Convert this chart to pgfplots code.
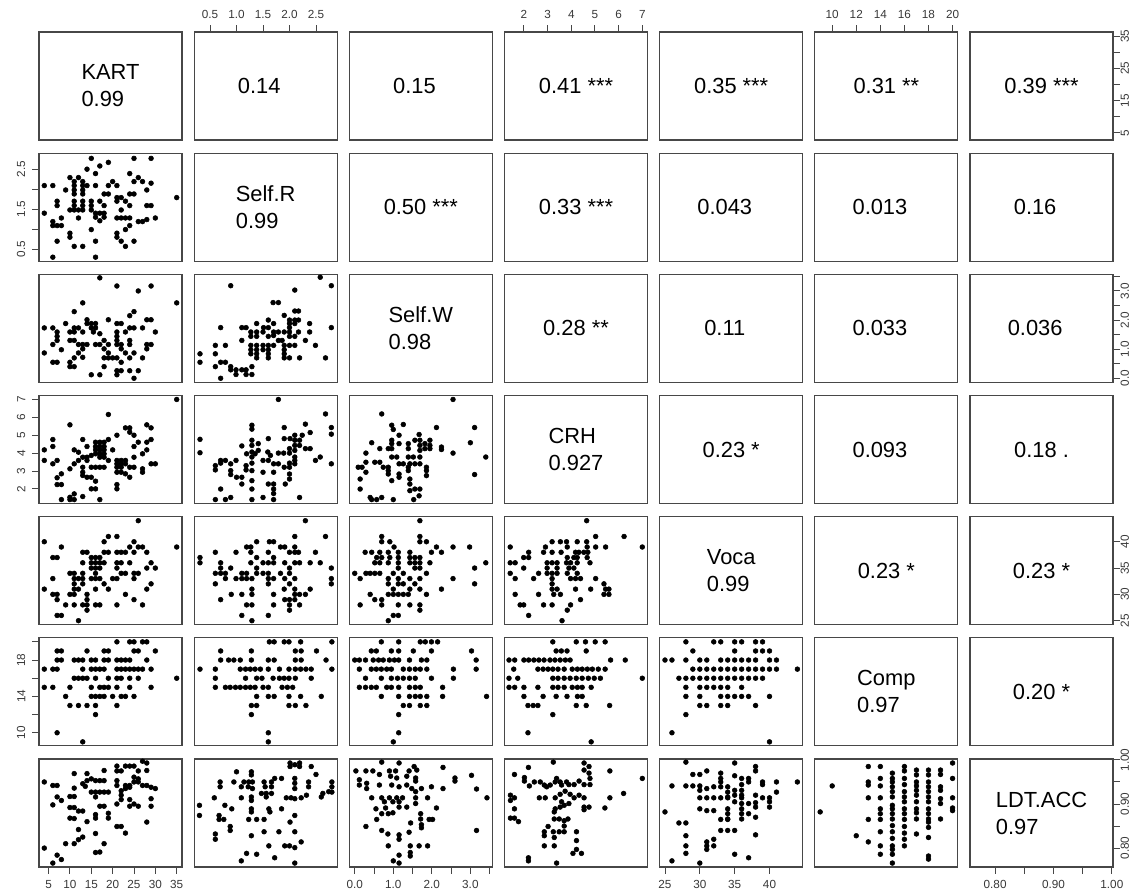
\documentclass[border=0pt]{standalone}
\usepackage{fontspec}
\setmainfont{Liberation Sans}
\usepackage{pgfplots}
\pgfplotsset{compat=1.18}
\tikzset{corr/.style={font=\fontsize{16.4}{20.25}\selectfont, text=black, inner sep=0pt}}
\pgfplotsset{
  panel/.style={scale only axis, width=107.25pt, height=81pt, anchor=north west,
    axis line style={black!72, line width=0.9pt},
    xtick=\empty, ytick=\empty,
    tick align=outside, major tick length=5.2pt,
    tick style={black!72, line width=0.7pt},
    ticklabel shift=3.4pt,
    every tick label/.append style={font=\fontsize{8.8}{9.5}\selectfont, text=black!78, inner sep=1.5pt}},
  pos/.style 2 args={at={({(39+155.17*(#1-1))*0.75pt},{-(32+121.17*(#2-1))*0.75pt})}},
  dots/.style={only marks, mark=*, mark size=1.8pt, mark options={fill=black, draw=black}},
  xkart/.style={xmin=2.76,xmax=36.24}, ykart/.style={ymin=2.76,ymax=36.24},
  xselfr/.style={xmin=0.2,xmax=2.9}, yselfr/.style={ymin=0.2,ymax=2.9},
  xselfw/.style={xmin=-0.14,xmax=3.57}, yselfw/.style={ymin=-0.14,ymax=3.57},
  xcrh/.style={xmin=1.18,xmax=7.22}, ycrh/.style={ymin=1.18,ymax=7.22},
  xvoca/.style={xmin=24.24,xmax=44.76}, yvoca/.style={ymin=24.24,ymax=44.76},
  xcomp/.style={xmin=8.56,xmax=20.44}, ycomp/.style={ymin=8.56,ymax=20.44},
  xldt/.style={xmin=0.757,xmax=1.002}, yldt/.style={ymin=0.757,ymax=1.002},
  leftstyle/.style={ytick pos=left, yticklabel style={rotate=90, anchor=south}},
  rightstyle/.style={ytick pos=right, yticklabel pos=right, yticklabel shift=-0.6pt, yticklabel style={rotate=90, anchor=north, inner sep=1pt}},
  topstyle/.style={xtick pos=right, xticklabel pos=right},
  bottomstyle/.style={xtick pos=left, xticklabel pos=left},
}
\newcommand{\tpanel}[3]{\begin{axis}[panel,pos={#1}{#2},xmin=0,xmax=1,ymin=0,ymax=1]\node[corr] at (rel axis cs:0.5,0.5) {#3};\end{axis}}
\newcommand{\npanel}[3]{\begin{axis}[panel,pos={#1}{#2},xmin=0,xmax=1,ymin=0,ymax=1]\node[corr,xshift=-4.8pt] at (rel axis cs:0.5,0.5) {#3};\end{axis}}
\newcommand{\dpanel}[3]{\begin{axis}[panel,pos={#1}{#2},xmin=0,xmax=1,ymin=0,ymax=1]\node[corr,align=left] at (rel axis cs:0.5,0.5) {#3};\end{axis}}
\begin{document}
\begin{tikzpicture}
\useasboundingbox (0,0) rectangle (851.25pt,-670.5pt);
% ---------------- row 1
\dpanel{1}{1}{KART\\0.99}
\begin{axis}[panel,pos={2}{1},xselfr,ymin=0,ymax=1,topstyle,xtick={0.5,1,1.5,2,2.5},xticklabels={0.5,1.0,1.5,2.0,2.5}]
\node[corr,xshift=-4.8pt] at (rel axis cs:0.5,0.5) {0.14};
\end{axis}
\npanel{3}{1}{0.15}
\begin{axis}[panel,pos={4}{1},xcrh,ymin=0,ymax=1,topstyle,xtick={2,3,4,5,6,7},xticklabels={2,3,4,5,6,7}]
\node[corr] at (rel axis cs:0.5,0.5) {0.41 ***};
\end{axis}
\tpanel{5}{1}{0.35 ***}
\begin{axis}[panel,pos={6}{1},xcomp,ymin=0,ymax=1,topstyle,xtick={10,12,14,16,18,20},xticklabels={10,12,14,16,18,20}]
\node[corr] at (rel axis cs:0.5,0.5) {0.31 **};
\end{axis}
\begin{axis}[panel,pos={7}{1},xmin=0,xmax=1,ykart,rightstyle,ytick={5,10,15,20,25,30,35},yticklabels={5,{},15,{},25,{},35}]
\node[corr] at (rel axis cs:0.5,0.5) {0.39 ***};
\end{axis}
% ---------------- row 2
\begin{axis}[panel,pos={1}{2},xkart,yselfr,leftstyle,ytick={0.5,1,1.5,2,2.5},yticklabels={0.5,{},1.5,{},2.5}]
\addplot[dots] coordinates {(15,2.77)(25,2.77)(29,2.77)(19,2.67)(17,2.58)(14,2.5)(16,2.39)(24,2.39)(10,2.29)(12,2.29)(26,2.29)(25,2.19)(27,2.19)(11,2.19)(13,2.19)(20,2.19)(4,2.09)(6,2.09)(11,2.09)(13,2.09)(14,2.09)(16,2.09)(19,2.09)(21,2.09)(29,2.15)(28,1.98)(9,1.98)(11,1.98)(13,1.98)(18,1.88)(19,1.88)(24,1.88)(25,1.88)(11,1.88)(13,1.88)(21,1.79)(22,1.79)(35,1.79)(7,1.7)(7,1.59)(11,1.7)(13,1.7)(15,1.7)(17,1.7)(21,1.7)(23,1.7)(28,1.59)(29,1.59)(24,1.59)(11,1.59)(13,1.59)(15,1.59)(18,1.59)(10,1.48)(11,1.48)(12,1.48)(13,1.48)(15,1.48)(22,1.48)(4,1.4)(16,1.4)(17,1.4)(18,1.4)(16,1.3)(18,1.3)(17,1.21)(8,1.28)(6,1.19)(12,1.28)(21,1.28)(22,1.28)(23,1.28)(24,1.28)(30,1.28)(26,1.19)(27,1.19)(28,1.24)(6,1.09)(7,1.09)(8,1.09)(24,1.09)(23,0.99)(15,0.99)(10,0.9)(10,0.8)(21,0.9)(21,0.8)(7,0.7)(16,0.7)(22,0.7)(25,0.7)(11,0.57)(13,0.57)(23,0.57)(6,0.3)(16,0.3)};
\end{axis}
\dpanel{2}{2}{Self.R\\0.99}
\tpanel{3}{2}{0.50 ***}
\tpanel{4}{2}{0.33 ***}
\npanel{5}{2}{0.043}
\npanel{6}{2}{0.013}
\npanel{7}{2}{0.16}
% ---------------- row 3
\begin{axis}[panel,pos={1}{3},xkart,yselfw]
\addplot[dots] coordinates {(17,3.45)(21,3.17)(29,3.17)(26,3.0)(35,2.59)(13,2.59)(25,2.29)(11,2.29)(24,2.15)(14,2.01)(14,1.88)(19,2.01)(21,1.88)(22,1.88)(28,2.01)(29,2.01)(4,1.73)(6,1.73)(9,1.88)(11,1.73)(12,1.73)(15,1.88)(16,1.88)(15,1.73)(16,1.73)(24,1.73)(25,1.73)(27,1.73)(7,1.59)(7,1.44)(10,1.59)(11,1.59)(13,1.59)(15.5,1.59)(17,1.53)(21,1.59)(21,1.44)(23,1.59)(30,1.59)(6,1.16)(8,0.98)(10,1.3)(11,1.3)(7,1.3)(12,1.16)(13,1.16)(14,1.16)(16,1.16)(17,1.16)(18,1.3)(19,1.16)(21,1.3)(21,1.16)(22,1.16)(24,1.16)(24,1.3)(28,1.16)(29,1.16)(28,1.01)(4,0.87)(12,0.87)(13,1.01)(13,0.72)(18,1.01)(19,0.87)(22,1.01)(23,0.87)(25,0.87)(6,0.55)(7,0.55)(10,0.55)(11,0.7)(10,0.4)(11,0.4)(18,0.7)(19,0.7)(20,0.7)(21,0.7)(22,0.55)(24,0.7)(27,0.7)(18,0.4)(21,0.26)(22,0.26)(24,0.26)(26,0.26)(21,0.12)(15,0.12)(17,0.12)(25,0.0)};
\end{axis}
\begin{axis}[panel,pos={2}{3},xselfr,yselfw]
\addplot[dots] coordinates {(2.58,3.47)(0.89,3.18)(2.79,3.18)(2.10,3.03)(1.69,2.6)(1.79,2.6)(2.10,2.31)(2.17,2.31)(1.90,2.16)(1.6,2.0)(2.0,2.0)(2.1,2.0)(2.17,2.0)(0.7,1.74)(1.1,1.74)(1.18,1.74)(1.38,1.88)(1.51,1.74)(1.6,1.74)(1.7,1.88)(2.0,1.88)(2.1,1.88)(2.38,1.88)(2.79,1.74)(1.27,1.59)(1.38,1.59)(1.5,1.59)(1.7,1.59)(1.7,1.47)(1.79,1.59)(1.9,1.59)(2.0,1.74)(2.0,1.59)(2.17,1.59)(2.38,1.59)(1.1,1.3)(1.27,1.44)(1.38,1.44)(1.6,1.44)(1.86,1.3)(2.0,1.44)(2.1,1.44)(1.79,1.3)(2.3,1.3)(0.6,1.13)(0.79,1.13)(1.27,1.13)(1.38,1.13)(1.5,1.13)(1.6,1.13)(1.7,1.13)(1.9,1.13)(2.0,1.13)(2.1,1.13)(2.49,1.13)(1.27,0.98)(1.38,0.98)(1.5,0.98)(1.6,0.98)(1.9,0.98)(0.31,0.84)(0.6,0.84)(1.27,0.84)(1.38,0.84)(1.6,0.84)(1.38,0.7)(1.6,0.7)(1.9,0.84)(1.9,0.7)(2.0,0.7)(2.19,0.7)(2.68,0.7)(0.31,0.55)(0.7,0.55)(0.79,0.55)(0.6,0.4)(0.89,0.4)(0.89,0.29)(0.99,0.29)(1.1,0.29)(1.18,0.29)(1.29,0.4)(0.99,0.13)(1.18,0.13)(1.29,0.13)(0.7,0.0)};
\end{axis}
\dpanel{3}{3}{Self.W\\0.98}
\tpanel{4}{3}{0.28 **}
\npanel{5}{3}{0.11}
\npanel{6}{3}{0.033}
\begin{axis}[panel,pos={7}{3},xmin=0,xmax=1,yselfw,rightstyle,ytick={0,0.5,1,1.5,2,2.5,3,3.5},yticklabels={0.0,{},1.0,{},2.0,{},3.0,{}}]
\node[corr,xshift=-4.8pt] at (rel axis cs:0.5,0.5) {0.036};
\end{axis}
% ---------------- row 4
\begin{axis}[panel,pos={1}{4},xkart,ycrh,leftstyle,ytick={2,3,4,5,6,7},yticklabels={2,3,4,5,6,7}]
\addplot[dots] coordinates {(35,7.0)(19,6.16)(10,5.58)(23,5.41)(24,5.41)(28,5.58)(29,5.41)(21,5.0)(24,5.17)(25,5.0)(17,4.61)(18,4.61)(19,4.76)(16,4.61)(6,4.76)(13,4.76)(26,4.61)(28,4.61)(29,4.76)(4,4.18)(6,4.37)(11,4.18)(12,4.05)(14,4.37)(16,4.37)(17,4.37)(18,4.37)(16,4.18)(17,4.18)(18,4.18)(16,3.96)(17,3.96)(18,3.96)(20,4.18)(25,4.37)(28,4.18)(27,3.96)(25,3.77)(13,3.77)(14,3.77)(15,3.87)(17,3.77)(18,3.77)(4,3.59)(7,3.59)(6,3.4)(12,3.59)(14,3.59)(19,3.59)(21,3.59)(22,3.59)(23,3.59)(13,3.21)(15,3.21)(16,3.21)(17,3.21)(18,3.21)(21,3.4)(22,3.4)(23,3.4)(21,3.21)(22,3.21)(24,3.21)(25,3.21)(29,3.4)(30,3.4)(27,3.12)(27,2.93)(11,3.4)(10,3.12)(13,2.93)(13,2.75)(21,2.93)(22,2.93)(14,2.65)(15,2.65)(7,2.62)(8,2.84)(24,2.65)(23,2.84)(7,2.24)(8,2.24)(16,2.43)(21,2.24)(21,2.0)(15,2.0)(16,2.0)(8,1.4)(10,1.4)(10,1.53)(11,1.4)(11,1.72)(13,1.57)(17,1.4)};
\end{axis}
\begin{axis}[panel,pos={2}{4},xselfr,ycrh]
\addplot[dots] coordinates {(1.79,7.0)(2.68,6.19)(0.31,4.77)(0.31,4.02)(1.29,5.56)(1.29,5.34)(1.29,4.72)(1.29,4.43)(1.29,4.06)(1.29,3.78)(1.29,3.44)(1.29,3.02)(1.29,2.46)(1.29,1.99)(1.29,1.4)(1.9,5.43)(2.3,5.62)(2.79,5.43)(2.79,5.06)(2.79,3.4)(2.39,5.15)(1.1,4.4)(1.41,4.53)(1.41,4.15)(1.6,4.81)(1.9,4.81)(2.01,4.81)(2.1,5.0)(2.1,4.72)(2.1,4.43)(2.1,4.15)(2.19,4.72)(2.19,4.43)(2.3,4.25)(2.39,4.25)(2.24,5.0)(1.19,3.96)(1.35,3.96)(1.59,4.06)(1.64,3.87)(1.79,4.0)(1.89,4.0)(2.0,4.25)(2.0,4.0)(2.49,3.59)(2.58,3.78)(0.7,3.59)(0.79,3.59)(0.6,3.3)(0.6,3.06)(0.7,3.44)(0.89,3.4)(0.89,3.02)(0.89,2.8)(0.99,3.59)(1.18,3.3)(1.18,3.06)(1.5,3.59)(1.6,3.59)(1.7,3.4)(1.79,3.4)(1.5,2.93)(1.7,2.93)(1.9,3.21)(2.0,3.21)(2.0,3.44)(2.1,3.4)(2.1,3.59)(2.1,3.78)(1.0,2.65)(1.1,2.65)(1.6,2.27)(1.7,2.27)(1.7,1.99)(1.7,1.74)(0.7,1.99)(1.1,2.27)(1.92,2.27)(2.0,2.83)(2.0,2.55)(0.6,1.4)(0.79,1.4)(0.89,1.52)(1.5,1.52)(1.7,1.4)(2.19,1.52)};
\end{axis}
\begin{axis}[panel,pos={3}{4},xselfw,ycrh]
\addplot[dots] coordinates {(2.55,7.0)(0.70,6.19)(3.11,5.43)(0.96,5.56)(1.0,5.32)(1.26,5.6)(2.12,5.43)(1.67,5.04)(0.44,4.58)(0.65,4.25)(0.87,4.25)(0.96,4.72)(0.96,4.53)(0.96,4.25)(1.15,5.0)(1.15,4.53)(1.39,4.53)(1.39,4.25)(1.56,4.72)(1.69,4.72)(1.82,4.53)(1.95,4.72)(1.95,4.43)(1.95,4.25)(1.69,4.43)(1.69,4.15)(1.82,4.25)(2.25,4.34)(2.25,4.2)(3.0,4.58)(2.55,4.0)(3.4,3.78)(3.11,2.8)(0.29,4.0)(0.09,3.21)(0.19,3.21)(0.29,3.49)(0.29,2.93)(0.14,2.55)(0.14,1.99)(0.52,3.49)(0.65,3.49)(0.74,3.21)(0.87,3.21)(0.87,3.02)(0.87,2.83)(0.96,3.78)(1.09,3.78)(1.15,3.4)(1.26,3.4)(1.39,3.78)(1.52,3.78)(1.43,3.4)(1.56,3.4)(1.69,3.4)(1.69,3.78)(1.15,2.83)(1.15,2.65)(1.39,3.21)(1.39,3.02)(1.86,3.21)(1.86,3.02)(1.86,2.74)(1.43,2.55)(1.43,2.27)(1.43,1.9)(1.56,1.99)(1.69,1.99)(1.53,1.4)(1.67,1.61)(0.4,1.52)(0.44,1.4)(0.57,1.4)(0.7,1.52)(1.0,1.4)(0.96,2.46)};
\end{axis}
\dpanel{4}{4}{CRH\\0.927}
\tpanel{5}{4}{0.23 *}
\npanel{6}{4}{0.093}
\tpanel{7}{4}{0.18 .}
% ---------------- row 5
\begin{axis}[panel,pos={1}{5},xkart,yvoca]
\addplot[dots] coordinates {(26,44)(19,41)(21,41)(4,40)(8,39)(18,40)(25,40)(24,39)(26,39)(27,39)(35,39)(6,37)(7,37)(13,38)(14,38)(18,38)(19,38)(21,38)(22,38)(23,38)(25,38)(28,38)(15,37)(16,37)(17,37)(15,36)(16,36)(17,36)(18,36)(13,36)(21,36)(22,36)(24,36)(29,36)(15,35)(16,35)(17,35)(21,35)(28,35)(30,35)(16,34)(10,34)(11,34)(13,34)(22,34)(23,34)(25,34)(26,34)(6,33)(11,33)(12,33)(13,33)(15,33)(16,33)(17,33)(20,33)(21,33)(25,33)(11,32)(13,32)(18,32)(29,32)(4,31)(11,31)(12,31)(16,31)(19,31)(28,31)(6,30)(7,30)(10,30)(11,30)(14,30)(7,29)(14,29)(23,30)(9,28)(11,28)(13,28)(14,28)(16,28)(17,28)(14,27)(21,28)(25,29)(27,28)(7,26)(8,26)(12,25)};
\end{axis}
\begin{axis}[panel,pos={2}{5},xselfr,yvoca]
\addplot[dots] coordinates {(2.3,44)(2.1,41)(2.68,41)(1.38,40)(1.62,40)(1.7,40)(1.19,39)(1.27,39)(1.83,39)(1.91,39)(2.1,39)(0.31,37)(0.31,36)(0.6,38)(0.99,38)(1.27,38)(1.6,38)(2.0,38)(2.1,38)(2.17,38)(2.49,38)(1.38,37)(1.7,37)(1.27,36)(1.5,36)(1.6,36)(1.7,36)(1.91,36)(2.1,36)(2.19,36)(2.39,36)(2.58,36)(0.7,36)(0.7,35)(0.89,35)(1.38,35)(2.0,35)(2.79,35)(0.6,34)(0.7,34)(0.79,33)(0.79,34)(0.99,33)(1.1,34)(1.19,34)(1.1,33)(1.19,33)(1.29,33)(1.38,34)(1.5,34)(1.6,34)(1.7,33)(1.6,33)(1.83,34)(1.91,33)(2.0,34)(2.1,33)(2.79,33)(2.79,32)(0.6,32)(1.6,32)(2.0,32)(1.29,31)(1.29,30)(1.9,31)(2.1,31)(2.1,30)(2.19,30)(2.3,30)(2.39,31)(0.9,30)(1.1,30)(1.7,30)(1.91,29)(2.0,29)(2.1,29)(0.7,29)(1.19,28)(1.29,28)(1.7,28)(2.0,28)(2.0,27)(2.19,28)(1.1,26)(1.6,26)(1.29,25)};
\end{axis}
\begin{axis}[panel,pos={3}{5},xselfw,yvoca]
\addplot[dots] coordinates {(1.69,44)(0.70,41)(1.69,41)(0.7,40)(0.91,40)(1.69,40)(1.86,40)(1.02,39)(2.12,39)(2.55,39)(2.98,39)(0.27,38)(0.44,38)(0.65,38)(0.87,38)(1.13,38)(1.43,38)(2.25,38)(1.99,38)(0.57,37)(0.7,37)(0.91,37)(1.13,37)(1.43,37)(1.69,37)(1.56,37)(1.13,36)(1.43,36)(1.56,36)(1.69,36)(1.95,36)(0.65,36)(0.87,36)(0.52,36)(3.4,36)(3.11,35)(1.13,35)(1.56,35)(1.69,35)(0.0,34)(0.29,34)(0.4,34)(0.52,34)(0.65,34)(1.0,34)(1.26,34)(1.86,34)(0.14,33)(0.87,33)(1.13,33)(1.43,33)(1.69,33)(2.55,33)(3.11,32)(0.87,32)(1.13,32)(1.26,32)(1.56,32)(1.0,31)(1.0,30)(1.13,30)(1.26,30)(1.39,30)(1.43,31)(1.69,31)(1.86,30)(2.25,31)(0.4,30)(0.52,29)(0.7,29)(0.87,30)(1.13,28)(1.43,28)(1.69,28)(0.14,28)(0.7,28)(1.69,27)(0.87,25)(1.0,26)(1.13,26)};
\end{axis}
\begin{axis}[panel,pos={4}{5},xcrh,yvoca]
\addplot[dots] coordinates {(4.65,44)(6.23,41)(7.0,39)(5.03,41)(3.19,40)(3.54,40)(3.8,40)(4.25,40)(4.65,40)(1.42,39)(2.91,39)(3.83,39)(4.67,39)(5.03,39)(5.45,39)(2.2,38)(2.83,38)(3.19,38)(3.57,38)(4.18,38)(4.32,38)(4.53,38)(4.7,38)(1.99,37)(2.2,37)(3.83,37)(4.11,37)(4.25,37)(4.67,37)(1.42,36)(1.63,36)(2.98,36)(3.19,36)(3.4,36)(3.8,36)(3.97,36)(4.25,36)(4.79,36)(1.99,35)(2.98,35)(3.4,35)(3.9,35)(4.11,35)(1.42,34)(2.62,34)(2.98,34)(3.19,34)(3.4,34)(3.83,34)(4.25,34)(1.63,33)(2.41,33)(3.19,33)(3.97,33)(4.18,33)(4.39,33)(5.03,33)(3.19,32)(5.38,32)(3.19,31)(3.4,31)(4.18,31)(4.82,31)(5.45,31)(5.59,31)(1.63,30)(2.62,30)(3.26,30)(3.54,30)(5.38,30)(5.59,30)(4.39,29)(1.84,28)(1.99,28)(2.83,28)(3.19,28)(3.97,28)(3.83,27)(2.2,26)(3.61,25)};
\end{axis}
\dpanel{5}{5}{Voca\\0.99}
\tpanel{6}{5}{0.23 *}
\begin{axis}[panel,pos={7}{5},xmin=0,xmax=1,yvoca,rightstyle,ytick={25,30,35,40},yticklabels={25,30,35,40}]
\node[corr] at (rel axis cs:0.5,0.5) {0.23 *};
\end{axis}
% ---------------- row 6
\begin{axis}[panel,pos={1}{6},xkart,ycomp,leftstyle,ytick={10,12,14,16,18,20},yticklabels={10,{},14,{},18,{}}]
\addplot[dots] coordinates {(21,20)(24,20)(25,20)(27,20)(28,20)(7,19)(8,19)(14,19)(18,19)(19,19)(25,19)(26,19)(30,19)(7,18)(8,18)(11,18)(12,18)(13,18)(15,18)(16,18)(18,18)(19,18)(21,18)(22,18)(23,18)(24,18)(28,18)(4,17)(6,17)(7,17)(13,17)(15,17)(16,17)(17,17)(18,17)(21,17)(22,17)(23,17)(24,17)(25,17)(26,17)(27,17)(29,17)(11,16)(12,16)(13,16)(14,16)(16,16)(19,16)(21,16)(22,16)(24,16)(26,16)(35,16)(4,15)(6,15)(10,15)(15,15)(17,15)(18,15)(19,15)(21,15)(24,15)(29,15)(9,14)(15,14)(16,14)(17,14)(18,14)(20,14)(22,14)(23,14)(25,14)(10,13)(12,13)(14,13)(16,13)(21,13)(16,12)(7,10)(13,9)};
\end{axis}
\begin{axis}[panel,pos={2}{6},xselfr,ycomp]
\addplot[dots] coordinates {(1.62,20)(1.71,20)(1.9,20)(1.99,20)(2.21,20)(2.8,20)(0.7,19)(1.28,19)(2.11,19)(2.22,19)(2.51,19)(0.7,18)(0.85,18)(0.95,18)(1.07,18)(1.28,18)(1.6,18)(1.71,18)(2.11,18)(2.22,18)(2.69,18)(0.31,17)(0.6,17)(1.07,17)(1.17,17)(1.26,17)(1.35,17)(1.45,17)(1.6,17)(1.81,17)(1.99,17)(2.11,17)(2.21,17)(2.31,17)(2.41,17)(2.8,17)(0.6,16)(1.17,16)(1.38,16)(1.48,16)(1.69,16)(1.81,16)(1.9,16)(1.99,16)(2.11,16)(2.41,16)(0.6,15)(0.79,15)(0.88,15)(0.98,15)(1.07,15)(1.17,15)(1.26,15)(1.35,15)(1.5,15)(1.6,15)(1.86,15)(1.96,15)(2.06,15)(1.38,14)(1.6,14)(1.71,14)(1.99,14)(2.21,14)(2.6,14)(1.28,13)(1.38,13)(1.99,13)(2.11,13)(2.31,13)(1.28,12)(1.6,10)(1.6,9)};
\end{axis}
\begin{axis}[panel,pos={3}{6},xselfw,ycomp]
\addplot[dots] coordinates {(0.69,20)(1.14,20)(1.7,20)(1.83,20)(1.99,20)(2.15,20)(0.43,19)(0.56,19)(0.95,19)(1.14,19)(1.52,19)(1.99,19)(3.03,19)(0,18)(0.12,18)(0.28,18)(0.48,18)(0.62,18)(0.74,18)(0.9,18)(1.03,18)(1.14,18)(1.42,18)(1.73,18)(1.87,18)(3.15,18)(0.12,17)(0.43,17)(0.56,17)(0.69,17)(0.83,17)(0.95,17)(1.26,17)(1.42,17)(1.57,17)(1.7,17)(1.87,17)(2.56,17)(3.15,17)(0.28,16)(0.69,16)(0.95,16)(1.11,16)(1.26,16)(1.42,16)(1.57,16)(1.99,16)(2.56,16)(0.12,15)(0.28,15)(0.43,15)(0.56,15)(0.83,15)(0.95,15)(1.14,15)(1.42,15)(1.57,15)(1.7,15)(2.28,15)(0.69,14)(1.14,14)(1.42,14)(1.57,14)(1.7,14)(1.87,14)(2.28,14)(3.42,14)(1.26,13)(1.42,13)(1.7,13)(1.87,13)(1.14,12)(1.14,10)(1.0,9)};
\end{axis}
\begin{axis}[panel,pos={4}{6},xcrh,ycomp]
\addplot[dots] coordinates {(3.22,20)(4.21,20)(4.6,20)(5.01,20)(5.43,20)(3.36,19)(3.58,19)(3.82,19)(4.63,19)(1.37,18)(1.61,18)(2.0,18)(2.2,18)(2.42,18)(2.63,18)(2.85,18)(3.1,18)(3.31,18)(3.53,18)(3.75,18)(3.95,18)(5.66,18)(6.28,18)(1.57,17)(2.59,17)(2.81,17)(3.02,17)(3.22,17)(3.44,17)(3.7,17)(4.04,17)(4.26,17)(4.46,17)(4.68,17)(4.89,17)(5.14,17)(5.43,17)(1.37,16)(1.74,16)(3.22,16)(3.44,16)(3.7,16)(3.95,16)(4.21,16)(4.46,16)(4.72,16)(4.97,16)(5.23,16)(7.0,16)(1.37,15)(1.61,15)(2.0,15)(2.59,15)(3.22,15)(3.44,15)(3.7,15)(4.04,15)(4.26,15)(4.46,15)(4.84,15)(2.0,14)(2.81,14)(3.36,14)(3.82,14)(4.26,14)(4.46,14)(2.17,13)(2.39,13)(2.59,13)(4.21,13)(4.63,13)(5.62,13)(3.22,12)(2.17,10)(4.84,9)};
\end{axis}
\begin{axis}[panel,pos={5}{6},xvoca,ycomp]
\addplot[dots] coordinates {(28,20)(32,20)(33,20)(35,20)(36,20)(38,20)(39,20)(29,19)(35,19)(38,19)(39,19)(40,19)(25,18)(26,18)(28,18)(30,18)(31,18)(33,18)(34,18)(35,18)(36,18)(37,18)(38,18)(40,18)(41,18)(29,17)(30,17)(31,17)(32,17)(33,17)(34,17)(35,17)(36,17)(37,17)(38,17)(39,17)(40,17)(41,17)(44,17)(27,16)(28,16)(29,16)(30,16)(31,16)(32,16)(33,16)(34,16)(35,16)(36,16)(37,16)(38,16)(39,16)(28,15)(30,15)(31,15)(32,15)(33,15)(34,15)(36,15)(28,14)(30,14)(33,14)(34,14)(35,14)(36,14)(37,14)(40,14)(30,13)(31,13)(33,13)(34,13)(38,13)(28,12)(26,10)(40,9)};
\end{axis}
\dpanel{6}{6}{Comp\\0.97}
\tpanel{7}{6}{0.20 *}
% ---------------- row 7
\begin{axis}[panel,pos={1}{7},xkart,yldt,bottomstyle,xtick={5,10,15,20,25,30,35},xticklabels={5,10,15,20,25,30,35}]
\addplot[dots] coordinates {(27,0.997)(28,0.993)(21,0.986)(23,0.986)(24,0.986)(25,0.986)(21,0.975)(22,0.975)(26,0.975)(28,0.976)(18,0.976)(11,0.969)(14,0.969)(4,0.95)(6,0.942)(7,0.942)(13,0.946)(14,0.953)(15,0.957)(16,0.953)(17,0.953)(18,0.953)(13.6,0.94)(25,0.961)(26,0.957)(25,0.95)(26,0.95)(28,0.942)(27,0.942)(23,0.942)(24,0.942)(23,0.935)(24,0.938)(22,0.93)(21,0.953)(21,0.942)(11,0.936)(15,0.927)(16,0.927)(17,0.927)(18,0.927)(19,0.927)(29,0.938)(30,0.935)(29,0.912)(29,0.895)(10,0.917)(11,0.917)(7,0.916)(8,0.908)(16,0.916)(22,0.92)(6,0.898)(17,0.895)(18,0.895)(22,0.91)(21,0.9)(25,0.9)(24,0.895)(24,0.91)(26,0.895)(10,0.892)(11,0.892)(12,0.884)(13,0.884)(11,0.867)(10,0.868)(16,0.876)(16,0.868)(19,0.879)(19,0.868)(28,0.859)(14,0.86)(22,0.849)(21,0.849)(23,0.834)(16,0.833)(12,0.842)(12,0.819)(13,0.825)(11,0.81)(9,0.81)(18,0.81)(16,0.79)(17,0.791)(4,0.8)(7,0.784)(8,0.774)(6,0.766)};
\end{axis}
\begin{axis}[panel,pos={2}{7},xselfr,yldt]
\addplot[dots] coordinates {(2.01,0.993)(2.01,0.985)(2.19,0.993)(2.19,0.985)(2.1,0.989)(2.41,0.985)(1.0,0.973)(1.28,0.973)(1.28,0.966)(2.5,0.967)(1.85,0.958)(1.72,0.958)(0.69,0.95)(0.69,0.939)(0.95,0.95)(1.14,0.95)(1.23,0.95)(1.3,0.95)(1.52,0.95)(1.66,0.95)(2.1,0.958)(2.1,0.947)(2.1,0.935)(1.09,0.939)(1.22,0.939)(1.3,0.935)(1.66,0.939)(1.54,0.939)(2.36,0.95)(2.36,0.939)(2.8,0.95)(2.8,0.939)(2.8,0.927)(1.47,0.924)(1.56,0.924)(1.66,0.924)(1.56,0.916)(2.63,0.924)(2.74,0.928)(0.58,0.914)(1.09,0.914)(1.28,0.916)(1.28,0.908)(1.94,0.914)(2.03,0.914)(2.1,0.912)(2.22,0.914)(2.32,0.92)(0.3,0.897)(0.3,0.874)(0.78,0.897)(0.91,0.889)(1.28,0.889)(1.61,0.889)(1.85,0.889)(1.28,0.882)(1.63,0.882)(0.67,0.874)(0.67,0.865)(0.76,0.865)(1.23,0.865)(1.38,0.865)(1.52,0.865)(2.01,0.859)(2.1,0.874)(2.6,0.916)(0.88,0.849)(0.88,0.84)(1.28,0.828)(0.6,0.832)(0.6,0.82)(1.52,0.837)(1.8,0.837)(2.1,0.837)(2.22,0.814)(1.61,0.805)(1.91,0.805)(2.0,0.805)(2.1,0.801)(1.19,0.788)(1.38,0.786)(1.72,0.778)(1.09,0.771)(2.1,0.766)};
\end{axis}
\begin{axis}[panel,pos={3}{7},xselfw,yldt,bottomstyle,xtick={0,0.5,1,1.5,2,2.5,3,3.5},xticklabels={0.0,{},1.0,{},2.0,{},3.0,{}}]
\addplot[dots] coordinates {(0.7,0.995)(1.15,0.993)(1.54,0.985)(1.61,0.977)(2.29,0.983)(0.03,0.975)(0.29,0.975)(0.47,0.975)(0.9,0.975)(1.06,0.975)(1.41,0.975)(0.64,0.967)(0.93,0.963)(1.09,0.959)(1.35,0.963)(1.58,0.959)(1.58,0.952)(2.6,0.959)(2.6,0.952)(3.03,0.965)(0.12,0.955)(0.12,0.943)(0.31,0.947)(0.31,0.935)(0.64,0.943)(0.96,0.943)(1.15,0.939)(1.35,0.943)(1.48,0.935)(1.58,0.928)(1.73,0.935)(1.99,0.939)(2.29,0.935)(3.16,0.934)(3.43,0.914)(0.44,0.914)(0.7,0.914)(0.9,0.914)(1.09,0.914)(1.24,0.914)(0.77,0.905)(0.99,0.905)(1.15,0.905)(1.58,0.914)(1.58,0.901)(1.89,0.914)(0.55,0.889)(0.8,0.891)(1.15,0.893)(1.35,0.893)(2.12,0.891)(0.7,0.878)(0.87,0.878)(0.99,0.88)(1.71,0.878)(1.71,0.866)(0.57,0.865)(1.93,0.865)(2.02,0.865)(1.45,0.857)(0.29,0.849)(1.73,0.853)(1.73,0.846)(0.7,0.84)(0.86,0.832)(1.15,0.83)(1.15,0.82)(1.41,0.836)(3.16,0.84)(0.87,0.805)(1.44,0.805)(1.67,0.805)(1.89,0.805)(1.44,0.79)(1.44,0.782)(1.15,0.784)(1.0,0.771)(1.15,0.766)};
\end{axis}
\begin{axis}[panel,pos={4}{7},xcrh,yldt]
\addplot[dots] coordinates {(3.24,0.995)(2.19,0.983)(4.54,0.993)(4.75,0.985)(4.54,0.977)(4.75,0.97)(5.63,0.975)(1.6,0.967)(2.02,0.96)(2.02,0.952)(2.44,0.95)(2.69,0.95)(2.86,0.943)(3.11,0.943)(2.96,0.939)(2.23,0.941)(3.32,0.95)(3.53,0.95)(3.8,0.95)(3.38,0.958)(3.59,0.943)(3.9,0.944)(4.12,0.944)(4.33,0.952)(4.54,0.944)(4.79,0.958)(4.79,0.944)(7.0,0.958)(1.43,0.92)(1.43,0.908)(1.6,0.914)(2.65,0.914)(2.9,0.914)(3.32,0.914)(3.53,0.922)(3.74,0.929)(3.95,0.922)(4.12,0.914)(4.33,0.92)(4.54,0.914)(3.59,0.905)(3.9,0.901)(3.7,0.897)(3.53,0.893)(6.21,0.924)(5.63,0.914)(1.6,0.889)(3.32,0.889)(4.54,0.893)(4.75,0.893)(4.54,0.887)(5.42,0.891)(1.43,0.868)(1.6,0.868)(1.77,0.86)(3.28,0.882)(3.28,0.866)(3.49,0.866)(3.86,0.866)(3.7,0.862)(3.7,0.85)(3.02,0.849)(2.86,0.837)(2.86,0.828)(3.24,0.837)(3.49,0.837)(3.7,0.837)(3.28,0.824)(4.22,0.837)(4.22,0.817)(2.86,0.805)(3.28,0.805)(4.22,0.797)(4.07,0.788)(4.43,0.788)(2.19,0.778)(2.19,0.771)(3.38,0.766)};
\end{axis}
\begin{axis}[panel,pos={5}{7},xvoca,yldt,bottomstyle,xtick={25,30,35,40},xticklabels={25,30,35,40}]
\addplot[dots] coordinates {(28,0.995)(35,0.993)(38,0.985)(38,0.975)(29,0.967)(30,0.967)(31,0.975)(33,0.97)(33,0.958)(33,0.95)(35,0.964)(36,0.958)(36,0.944)(37,0.958)(37,0.95)(39,0.95)(39,0.944)(41,0.95)(44,0.95)(26,0.941)(28,0.941)(29,0.941)(30,0.941)(30,0.931)(31,0.935)(32,0.939)(33,0.939)(34,0.939)(34,0.927)(34,0.916)(35,0.931)(35,0.92)(36,0.931)(36,0.92)(30,0.914)(31,0.914)(32,0.914)(33,0.914)(34,0.914)(36,0.914)(38,0.92)(39,0.914)(40,0.914)(40,0.905)(40,0.893)(38,0.903)(38,0.893)(37,0.901)(41,0.927)(35,0.905)(36,0.901)(36,0.889)(30,0.889)(31,0.885)(32,0.885)(34,0.889)(34,0.878)(34,0.866)(36,0.878)(36,0.866)(37,0.878)(38,0.87)(25,0.882)(27,0.857)(28,0.857)(33,0.865)(34,0.865)(33,0.84)(34,0.84)(35,0.84)(38,0.83)(28,0.828)(32,0.82)(31,0.814)(31,0.805)(31,0.797)(32,0.805)(28,0.805)(28,0.788)(35,0.786)(37,0.778)(26,0.771)(30,0.766)};
\end{axis}
\begin{axis}[panel,pos={6}{7},xcomp,yldt]
\addplot[dots] coordinates {(9,0.882)(10,0.941)(12,0.828)(13,0.985)(13,0.95)(13,0.943)(13,0.914)(13,0.865)(13,0.814)(14,0.985)(14,0.958)(14,0.941)(14,0.914)(14,0.889)(14,0.878)(14,0.865)(14,0.837)(14,0.805)(14,0.786)(15,0.97)(15,0.958)(15,0.95)(15,0.939)(15,0.928)(15,0.916)(15,0.897)(15,0.889)(15,0.878)(15,0.866)(15,0.851)(15,0.837)(15,0.822)(15,0.805)(15,0.797)(15,0.786)(15,0.766)(16,0.985)(16,0.975)(16,0.958)(16,0.944)(16,0.928)(16,0.916)(16,0.905)(16,0.889)(16,0.878)(16,0.865)(16,0.849)(16,0.834)(16,0.82)(16,0.805)(17,0.977)(17,0.966)(17,0.95)(17,0.941)(17,0.931)(17,0.92)(17,0.905)(17,0.889)(17,0.88)(17,0.866)(17,0.832)(18,0.977)(18,0.966)(18,0.95)(18,0.939)(18,0.928)(18,0.916)(18,0.905)(18,0.889)(18,0.878)(18,0.866)(18,0.859)(18,0.847)(18,0.824)(18,0.782)(18,0.775)(19,0.977)(19,0.967)(19,0.939)(19,0.931)(19,0.912)(19,0.901)(19,0.866)(20,0.993)(20,0.958)(20,0.914)(20,0.891)(20,0.885)};
\end{axis}
\begin{axis}[panel,pos={7}{7},xldt,yldt,bottomstyle,rightstyle,xtick={0.8,0.85,0.9,0.95,1.0},xticklabels={0.80,{},0.90,{},1.00},ytick={0.8,0.85,0.9,0.95,1.0},yticklabels={0.80,{},0.90,{},1.00}]
\node[corr,align=left] at (rel axis cs:0.5,0.5) {LDT.ACC\\0.97};
\end{axis}
\end{tikzpicture}
\end{document}
